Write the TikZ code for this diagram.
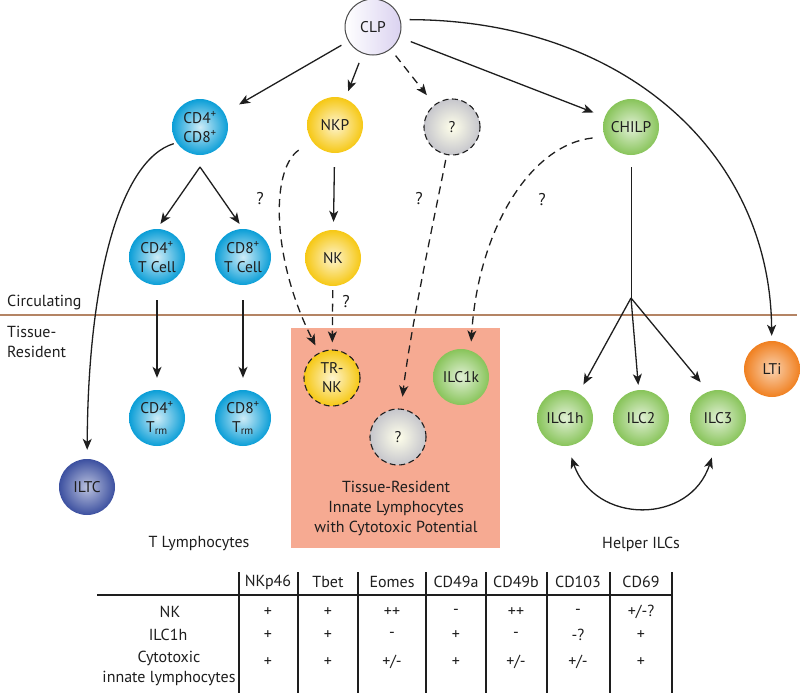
\documentclass[tikz,border=0pt]{standalone}
\usepackage{fontspec}
\setmainfont{PT Sans}
\usetikzlibrary{arrows.meta,shapes.geometric}
\definecolor{cblue}{RGB}{10,158,215}
\definecolor{cyellow}{RGB}{246,200,20}
\definecolor{cgreen}{RGB}{136,196,90}
\definecolor{cpurple}{RGB}{60,80,160}
\definecolor{corange}{RGB}{240,128,32}
\definecolor{cgrey}{RGB}{198,198,204}
\definecolor{csalmon}{RGB}{246,170,146}
\definecolor{cbrown}{RGB}{180,132,100}
\definecolor{clav}{RGB}{218,210,240}
\definecolor{ink}{RGB}{30,30,30}
\begin{document}
\begin{tikzpicture}[x=1pt,y=-1pt,
  font=\fontsize{16}{20}\selectfont, text=ink,
  cell/.style={circle, minimum size=56pt, inner sep=0pt, align=center, font=\fontsize{15.5}{19}\selectfont},
  bluecell/.style={cell, inner color=cblue!20!white, outer color=cblue},
  yellowcell/.style={cell, inner color=cyellow!20!white, outer color=cyellow},
  greencell/.style={cell, inner color=cgreen!25!white, outer color=cgreen},
  greycell/.style={cell, inner color=white!92!yellow, outer color=cgrey},
  purplecell/.style={cell, inner color=cpurple!35!white, outer color=cpurple},
  orangecell/.style={cell, inner color=corange!35!white, outer color=corange},
  dashborder/.style={draw=ink, line width=1.1pt, dash pattern=on 6pt off 3.5pt},
  tip/.tip={Stealth[length=11pt,width=9pt,inset=3pt]},
  arr/.style={-tip, line width=1.3pt, draw=ink},
  darr/.style={arr, dash pattern=on 8pt off 5.5pt},
  plain/.style={line width=1pt, draw=ink},
  qmark/.style={font=\fontsize{17}{20}\selectfont},
  tab/.style={font=\fontsize{16}{20}\selectfont},
  tline/.style={line width=1.1pt, draw=ink},
]
\useasboundingbox (0,0) rectangle (800,693);

% tissue-resident cytotoxic box
\node[rectangle, fill=csalmon, minimum width=209pt, minimum height=220pt, inner sep=0pt, anchor=north west] (trbox) at (291,328) {};

% divider
\coordinate (divl) at (0,315);
\coordinate (divr) at (797,315);
\draw[cbrown, line width=1.3pt] (divl) -- (divr);
\node[anchor=west, inner sep=0pt] (circ) at (7,302) {Circulating};
\node[anchor=west, align=left, inner sep=0pt] (tres) at (7,342) {Tissue-\\Resident};

% cells
\node[cell, left color=white, right color=clav, draw=black!70, line width=1pt] (clp) at (373,27) {CLP};
\node[bluecell] (dp) at (200,127) {CD4\textsuperscript{+}\\CD8\textsuperscript{+}};
\node[yellowcell] (nkp) at (335,125) {NKP};
\node[greycell, dashborder] (q1) at (452,127) {?};
\node[greencell] (chilp) at (631,127) {CHILP};
\node[bluecell] (cd4) at (157,257) {CD4\textsuperscript{+}\\T Cell};
\node[bluecell] (cd8) at (243,257) {CD8\textsuperscript{+}\\T Cell};
\node[yellowcell] (nk) at (333,258) {NK};
\node[bluecell] (cd4m) at (157,418) {CD4\textsuperscript{+}\\T\textsubscript{rm}};
\node[bluecell] (cd8m) at (243,418) {CD8\textsuperscript{+}\\T\textsubscript{rm}};
\node[purplecell] (iltc) at (87,487) {ILTC};
\node[yellowcell, dashborder] (trnk) at (332,378) {TR-\\NK};
\node[greycell, dashborder] (q2) at (398,437) {?};
\node[greencell] (ilc1k) at (461,377) {ILC1k};
\node[greencell] (ilc1h) at (565,418) {ILC1h};
\node[greencell] (ilc2) at (641,418) {ILC2};
\node[greencell] (ilc3) at (718,418) {ILC3};
\node[orangecell] (lti) at (772,369) {LTi};

% group labels
\node[align=center] (trtext) at (396,508) {Tissue-Resident\\Innate Lymphocytes\\with Cytotoxic Potential};
\node (tlym) at (199,544) {T Lymphocytes};
\node (hilc) at (641,544) {Helper ILCs};

% connectors from CLP
\draw[arr, shorten <=8pt, shorten >=17pt] (clp) -- (dp);
\draw[arr, shorten <=10pt, shorten >=8pt] (clp) -- (nkp);
\draw[darr, shorten <=8pt, shorten >=12pt] (clp) -- (q1);
\draw[arr, shorten <=12pt, shorten >=12pt] (clp) -- (chilp);
\draw[arr, shorten <=9pt, shorten >=5pt] (clp.15) .. controls (620,20) and (770,150) .. (lti);

% T cell branch
\draw[arr, shorten <=3pt, shorten >=9pt] (dp.214) .. controls (120,160) and (88,280) .. (iltc);
\coordinate (fork1) at (200,167);
\draw[arr, shorten >=6pt] (fork1) -- (cd4.north);
\draw[arr, shorten >=6pt] (fork1) -- (cd8.north);
\draw[arr, shorten <=15pt, shorten >=12pt] (cd4) -- (cd4m);
\draw[arr, shorten <=15pt, shorten >=12pt] (cd8) -- (cd8m);

% NK branch
\draw[arr, shorten <=14pt, shorten >=8pt] (nkp) -- (nk);
\draw[darr, shorten <=4pt, shorten >=7pt] (nk) -- (trnk);
\node[qmark] (qa) at (346,302) {?};
\draw[darr, shorten <=16pt, shorten >=8pt] (nkp) .. controls (270,170) and (272,260) .. (trnk);
\node[qmark] (qb) at (260,199) {?};
\draw[darr, shorten <=5pt, shorten >=12pt] (q1) .. controls (438,200) and (410,330) .. (q2);
\node[qmark] (qc) at (419,199) {?};
\draw[darr, shorten <=12pt, shorten >=9pt] (chilp.200) .. controls (530,145) and (478,230) .. (ilc1k.70);
\node[qmark] (qd) at (542,200) {?};

% helper ILC branch
\coordinate (fork2) at (631,298);
\draw[plain, shorten <=12pt] (chilp) -- (fork2);
\draw[arr, shorten >=10pt] (fork2) -- (ilc1h);
\draw[arr, shorten >=5pt] (fork2) -- (ilc2);
\draw[arr, shorten >=12pt] (fork2) -- (ilc3.110);
\draw[arr, tip-tip, shorten <=12pt, shorten >=12pt] (ilc1h.275) .. controls (595,525) and (690,525) .. (ilc3.265);

% table
\coordinate (hl) at (97,595);
\coordinate (hr) at (672,595);
\draw[tline] (hl) -- (hr);
\foreach \x [count=\i] in {239,298,358,426,486,547,610,672} {
  \coordinate (vt\i) at (\x,572);
  \coordinate (vb\i) at (\x,693);
  \draw[tline] (vt\i) -- (vb\i);
}
\foreach \x/\t [count=\i] in {268/NKp46,328/Tbet,392/Eomes,456/CD49a,516/CD49b,578/CD103,641/CD69} {
  \node[tab] (hd\i) at (\x,582) {\t};
}
\node[tab] (rNK) at (170,612) {NK};
\node[tab] (rILC) at (168,635) {ILC1h};
\node[tab, align=center] (rCyt) at (169,668) {Cytotoxic\\innate lymphocytes};
\foreach \x/\a/\b/\c [count=\i] in {268/{+}/{+}/{+}, 328/{+}/{+}/{+}, 392/{++}/{-}/{+/-}, 456/{-}/{+}/{+}, 516/{++}/{-}/{+/-}, 578/{-}/{-?}/{+/-}, 641/{+/-?}/{+}/{+}} {
  \node[tab] (ca\i) at (\x,612) {\a};
  \node[tab] (cb\i) at (\x,635) {\b};
  \node[tab] (cc\i) at (\x,662) {\c};
}
\end{tikzpicture}
\end{document}
